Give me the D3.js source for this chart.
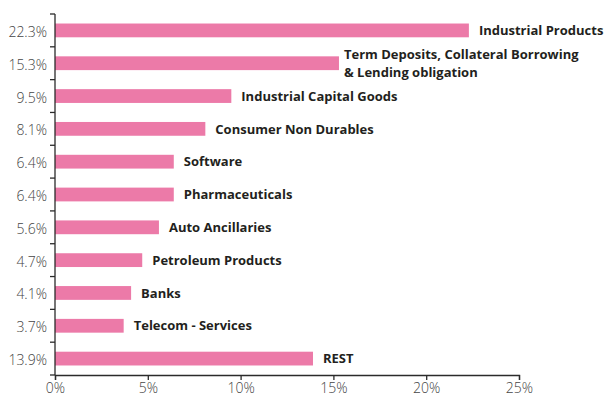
<!DOCTYPE html>
<html>
<head>
<meta charset="utf-8">
<script src="https://cdn.jsdelivr.net/npm/d3@7"></script>
<style>
  html, body { margin: 0; padding: 0; background: #fff; }
  svg { display: block; }
</style>
</head>
<body>
<svg id="chart" width="604" height="396"></svg>
<script>
// Sector allocation, share of portfolio (%)
const categories = [
  "Industrial Products",
  "Term Deposits, Collateral Borrowing\n& Lending obligation",
  "Industrial Capital Goods",
  "Consumer Non Durables",
  "Software",
  "Pharmaceuticals",
  "Auto Ancillaries",
  "Petroleum Products",
  "Banks",
  "Telecom - Services",
  "REST"
];
const values = [22.3, 15.3, 9.5, 8.1, 6.4, 6.4, 5.6, 4.7, 4.1, 3.7, 13.9];
const valueLabels = ["22.3%", "15.3%", "9.5%", "8.1%", "6.4%", "6.4%", "5.6%", "4.7%", "4.1%", "3.7%", "13.9%"];
const xTicks = [0, 5, 10, 15, 20, 25];

const svg = d3.select("#chart");
const margin = { top: 14, right: 85, bottom: 21, left: 55 };
const width = 604 - margin.left - margin.right;
const height = 396 - margin.top - margin.bottom;

const g = svg.append("g").attr("transform", `translate(${margin.left},${margin.top})`);

const x = d3.scaleLinear().domain([0, 25]).range([0, width]);
const y = d3.scaleBand().domain(categories).range([0, height]).paddingInner(0.58).paddingOuter(0.29);
const band = d3.scaleBand().domain(categories).range([0, height]);

const barColor = "#ec7aa8";
const axisColor = "#2b2b2b";
const tickFont = "'Open Sans', sans-serif";

// Bars
g.selectAll("rect.bar")
  .data(categories)
  .join("rect")
  .attr("class", "bar")
  .attr("x", x(0))
  .attr("y", d => y(d))
  .attr("width", (d, i) => x(values[i]) - x(0))
  .attr("height", y.bandwidth())
  .attr("fill", barColor);

// Category labels to the right of each bar
const labels = g.selectAll("text.cat")
  .data(categories)
  .join("text")
  .attr("class", "cat")
  .attr("font-family", "'Open Sans', sans-serif")
  .attr("font-weight", 700)
  .attr("font-size", 13)
  .attr("fill", "#231f20")
  .attr("x", (d, i) => x(values[i]) + (d.includes("\n") ? 5 : 10))
  .attr("y", d => y(d) + y.bandwidth() / 2 + 1)
  .attr("dominant-baseline", "central");

labels.each(function (d) {
  const lines = d.split("\n");
  const t = d3.select(this);
  const x0 = t.attr("x");
  lines.forEach((line, k) => {
    t.append("tspan")
      .attr("x", x0)
      .attr("dy", k === 0 ? (-(lines.length - 1) * 0.7 - 0.1) + "em" : "1.4em")
      .text(line);
  });
});

// Y axis: value labels as tick text, tick marks on band boundaries
const yAxisG = g.append("g");
yAxisG.append("line")
  .attr("x1", 0).attr("x2", 0)
  .attr("y1", 0).attr("y2", height)
  .attr("stroke", axisColor).attr("stroke-width", 1.3);
const bounds = d3.range(categories.length + 1).map(i => i * band.step());
yAxisG.selectAll("line.tick")
  .data(bounds)
  .join("line")
  .attr("class", "tick")
  .attr("x1", -5).attr("x2", 0)
  .attr("y1", d => d).attr("y2", d => d)
  .attr("stroke", axisColor).attr("stroke-width", 1.3);
yAxisG.selectAll("text")
  .data(categories)
  .join("text")
  .attr("x", -8)
  .attr("y", d => band(d) + band.bandwidth() / 2 + 1)
  .attr("text-anchor", "end")
  .attr("dominant-baseline", "central")
  .attr("font-family", tickFont)
  .attr("font-weight", 300)
  .attr("font-size", 14)
  .attr("fill", "#444")
  .text((d, i) => valueLabels[i]);

// X axis
const xAxis = d3.axisBottom(x)
  .tickValues(xTicks)
  .tickFormat(d => d + "%")
  .tickSize(5)
  .tickPadding(3);
const xAxisG = g.append("g")
  .attr("transform", `translate(0,${height})`)
  .call(xAxis);
xAxisG.select(".domain").attr("stroke", axisColor).attr("stroke-width", 1.3);
xAxisG.selectAll(".tick line").attr("stroke", axisColor).attr("stroke-width", 1.3);
xAxisG.selectAll(".tick text")
  .attr("font-family", tickFont)
  .attr("font-weight", 300)
  .attr("font-size", 14)
  .attr("fill", "#444");
</script>
</body>
</html>
